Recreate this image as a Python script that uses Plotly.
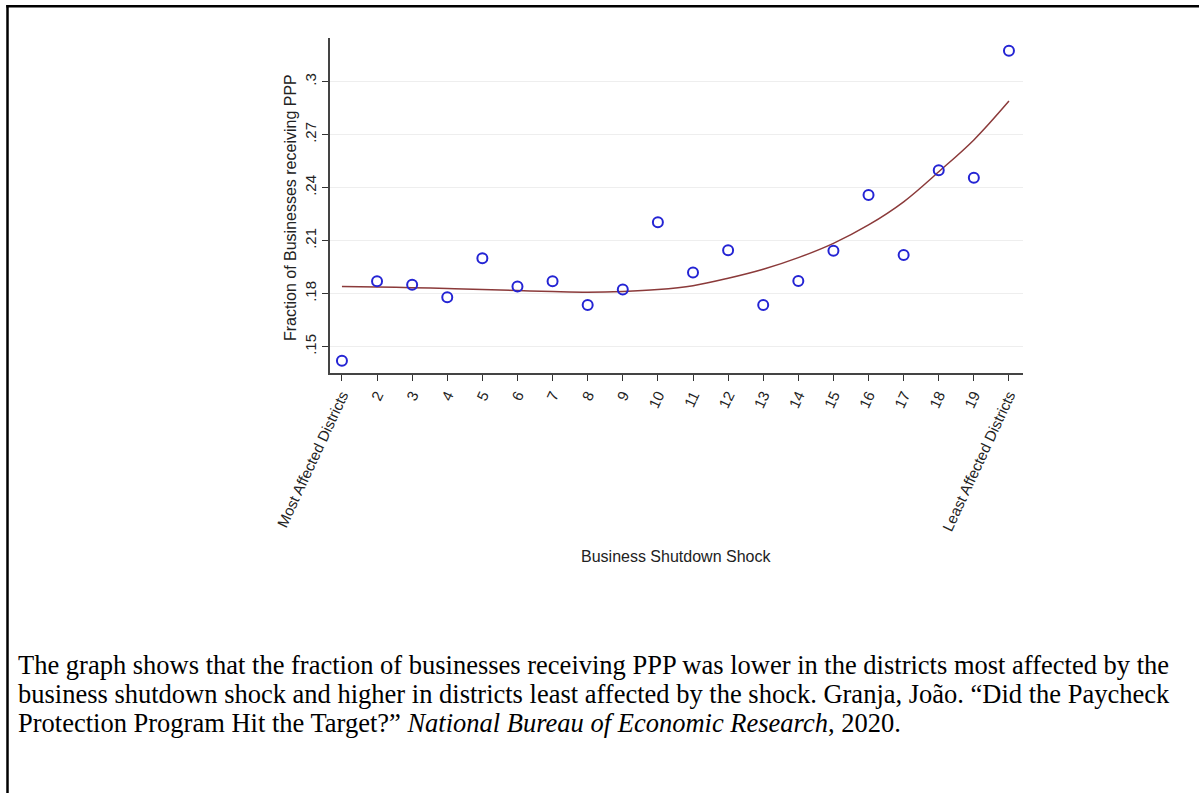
import plotly.graph_objects as go

# ---- data ----
shock_bins = list(range(1, 21))
tick_labels = ["Most Affected Districts"] + [str(i) for i in range(2, 20)] + ["Least Affected Districts"]
fraction_ppp = [0.142, 0.187, 0.185, 0.178, 0.200, 0.184, 0.187, 0.1736, 0.1823, 0.2204,
                0.192, 0.2046, 0.1736, 0.1872, 0.2043, 0.2359, 0.2019, 0.2498, 0.2456, 0.3175]
fitted_ppp = [0.1840, 0.1838, 0.1834, 0.1829, 0.1824, 0.1818, 0.1812, 0.1808, 0.1812, 0.1823,
              0.1845, 0.1887, 0.1938, 0.2004, 0.2085, 0.2189, 0.2320, 0.2490, 0.2670, 0.2890]
y_ticks = [0.15, 0.18, 0.21, 0.24, 0.27, 0.30]
y_ticktext = [".15", ".18", ".21", ".24", ".27", ".3"]

caption_lines = [
    "The graph shows that the fraction of businesses receiving PPP was lower in the districts most affected by the",
    "business shutdown shock and higher in districts least affected by the shock. Granja, João. “Did the Paycheck",
    "Protection Program Hit the Target?” <i>National Bureau of Economic Research</i>, 2020.",
]

W, H = 1199, 793
L, R, T, B = 330, 1023, 38, 373  # plot area in pixels


def px(x):
    return (x - L) / (R - L)


def py(y):
    return (B - y) / (B - T)


fig = go.Figure()
fig.add_trace(go.Scatter(
    x=shock_bins, y=fitted_ppp, mode="lines", line=dict(color="#8b3a3a", width=1.5, shape="spline"),
    showlegend=False, hoverinfo="skip"))
fig.add_trace(go.Scatter(
    x=shock_bins, y=fraction_ppp, mode="markers",
    marker=dict(symbol="circle-open", size=10, color="#2424d4", line=dict(width=2, color="#2424d4")),
    showlegend=False))

tick_font = dict(family="Liberation Sans, Arial", size=15, color="#222")
title_font = dict(family="Liberation Sans, Arial", size=16, color="#222")

fig.update_layout(
    width=W, height=H,
    margin=dict(l=L, r=W - R, t=T, b=H - B, autoexpand=False),
    paper_bgcolor="white", plot_bgcolor="white",
    font=tick_font,
    xaxis=dict(
        range=[0.66, 20.4], tickmode="array", tickvals=shock_bins, ticktext=tick_labels,
        tickangle=-65, ticks="outside", ticklen=6, tickwidth=1.3, tickcolor="#333",
        showline=True, linecolor="#444", linewidth=1.5, showgrid=False, zeroline=False,
        tickfont=tick_font,
    ),
    yaxis=dict(
        range=[0.1351, 0.3247], tickmode="array", tickvals=y_ticks, ticktext=y_ticktext,
        tickangle=-90, ticks="outside", ticklen=6, tickwidth=1.3, tickcolor="#333",
        showline=True, linecolor="#444", linewidth=1.5, showgrid=True, gridcolor="#eeeeee",
        gridwidth=1, zeroline=False, tickfont=tick_font,
    ),
    annotations=[
        dict(text="Fraction of Businesses receiving PPP", xref="paper", yref="paper",
             x=px(290), y=py(208), textangle=-90, showarrow=False, xanchor="center", yanchor="middle",
             font=title_font),
        dict(text="Business Shutdown Shock", xref="paper", yref="paper",
             x=px(676), y=py(556), showarrow=False, xanchor="center", yanchor="middle",
             font=title_font),
    ] + [
        dict(text=line, xref="paper", yref="paper", x=px(16), y=py(665 + 29 * i),
             showarrow=False, xanchor="left", yanchor="middle", align="left",
             font=dict(family="Liberation Serif, Times New Roman", size=26.5, color="black"))
        for i, line in enumerate(caption_lines)
    ],
    shapes=[
        dict(type="line", xref="paper", yref="paper", x0=px(7.5), y0=py(5), x1=px(7.5), y1=py(900),
             line=dict(color="black", width=2.5)),
        dict(type="line", xref="paper", yref="paper", x0=px(6.3), y0=py(6.2), x1=px(1300), y1=py(6.2),
             line=dict(color="black", width=2.5)),
    ],
)

fig.write_html("out.html", config={"displayModeBar": False},
               post_script="document.body.style.margin='0';")
